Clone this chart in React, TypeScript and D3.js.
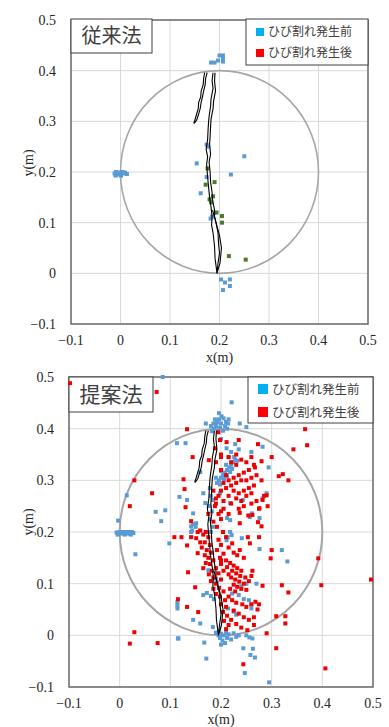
import React from 'react';
import * as d3 from 'd3';

type P = [number, number];

const xTicks = [-0.1, 0, 0.1, 0.2, 0.3, 0.4, 0.5];
const yTicks = [-0.1, 0, 0.1, 0.2, 0.3, 0.4, 0.5];
const legendLabels = ['ひび割れ発生前', 'ひび割れ発生後'];
const panelTitles = ['従来法', '提案法'];
const axisTitles = ['x(m)', 'y(m)'];
const circleCenter: P = [0.2, 0.2];
const circleRadius = 0.2;

const crackMainA: P[] = [[0.187,0.396],[0.185,0.38],[0.187,0.365],[0.183,0.345],[0.182,0.33],[0.179,0.31],[0.178,0.3],[0.177,0.285],[0.176,0.264],[0.173,0.245],[0.176,0.23],[0.174,0.215],[0.176,0.19],[0.178,0.17],[0.18,0.15],[0.183,0.13],[0.185,0.112],[0.184,0.095],[0.187,0.08],[0.19,0.053],[0.191,0.03],[0.193,0.015],[0.195,0.0]];
const crackMainB: P[] = [[0.191,0.396],[0.19,0.38],[0.192,0.36],[0.188,0.34],[0.187,0.325],[0.183,0.305],[0.182,0.29],[0.181,0.27],[0.18,0.255],[0.182,0.235],[0.179,0.22],[0.181,0.2],[0.182,0.18],[0.185,0.16],[0.186,0.145],[0.19,0.125],[0.19,0.112],[0.194,0.095],[0.197,0.08],[0.198,0.06],[0.2,0.04],[0.197,0.02],[0.195,0.0]];
const crackLoop: P[] = [[0.186,0.125],[0.193,0.1],[0.2,0.075],[0.204,0.05],[0.201,0.02],[0.196,0.004]];
const crackBranchA: P[] = [[0.17,0.396],[0.168,0.385],[0.167,0.372],[0.163,0.36],[0.162,0.348],[0.158,0.338],[0.157,0.325],[0.154,0.315],[0.151,0.305],[0.148,0.296]];
const crackBranchB: P[] = [[0.175,0.396],[0.172,0.385],[0.171,0.372],[0.168,0.36],[0.166,0.35],[0.163,0.338],[0.161,0.325],[0.158,0.315],[0.154,0.303],[0.149,0.296]];

const topBefore: P[] = [
  [-0.012,0.197],[-0.009,0.2],[-0.006,0.195],[-0.003,0.199],[0,0.196],[0.003,0.2],[0.006,0.197],[0.009,0.199],[0.013,0.196],[-0.01,0.193],[0.001,0.193],
  [0.183,0.416],[0.19,0.416],[0.197,0.42],[0.2,0.43],[0.207,0.43],[0.207,0.424],[0.207,0.418],
  [0.174,0.254],[0.177,0.25],[0.25,0.231],[0.154,0.217],[0.223,0.195],[0.174,0.19],[0.162,0.158],[0.182,0.108],[0.185,0.112],
  [0.203,-0.012],[0.211,-0.018],[0.221,-0.012],[0.221,-0.025],[0.207,-0.033],
];
const topAfter: P[] = [
  [0.176,0.207],[0.172,0.175],[0.19,0.18],[0.18,0.146],[0.187,0.152],[0.183,0.14],[0.194,0.12],[0.205,0.113],[0.205,0.1],[0.219,0.034],[0.253,0.027],
];

const bottomBefore: P[] = [
  [-0.006,0.199],[-0.003,0.197],[0,0.2],[0.003,0.197],[0.006,0.2],[0.009,0.197],[0.012,0.2],[0.015,0.197],[0.018,0.2],[0.021,0.197],[0.024,0.2],[0.027,0.198],[-0.004,0.195],[0.01,0.195],[0.022,0.195],
  [-0.003,0.222],[0.014,0.271],[0.031,0.157],[0.071,0.239],[0.09,0.242],[0.082,0.221],[0.098,0.178],[0.085,0.5],
  [0.113,0.372],[0.13,0.372],[0.118,0.268],[0.133,0.262],[0.114,0.064],[0.114,0.058],[0.114,0.052],[0.115,-0.006],[0.145,0.03],[0.141,0.211],[0.141,0.2],[0.151,0.217],[0.145,0.236],[0.159,0.316],
  [0.182,0.395],[0.186,0.4],[0.19,0.405],[0.185,0.41],[0.192,0.412],[0.196,0.418],[0.2,0.41],[0.198,0.402],[0.204,0.396],[0.208,0.405],[0.21,0.413],[0.205,0.42],[0.212,0.4],[0.214,0.41],[0.188,0.418],[0.194,0.395],[0.201,0.424],[0.215,0.418],[0.18,0.405],[0.17,0.41],[0.221,0.451],[0.237,0.41],[0.25,0.403],[0.196,0.43],
  [0.211,0.362],[0.22,0.355],[0.228,0.37],[0.235,0.36],[0.26,0.355],[0.282,0.365],[0.294,0.325],[0.215,0.345],[0.2,0.38],
  [0.192,0.295],[0.196,0.3],[0.2,0.305],[0.204,0.31],[0.208,0.315],[0.212,0.32],[0.216,0.325],[0.22,0.33],[0.224,0.335],[0.228,0.34],[0.198,0.292],[0.206,0.302],[0.212,0.308],[0.218,0.316],[0.222,0.322],[0.19,0.305],[0.2,0.318],[0.21,0.33],[0.226,0.345],[0.232,0.338],
  [0.165,0.275],[0.169,0.256],[0.184,0.262],[0.198,0.275],[0.218,0.256],[0.243,0.262],[0.257,0.229],[0.282,0.265],[0.29,0.275],[0.218,0.223],[0.211,0.184],[0.212,0.227],[0.218,0.2],[0.221,0.194],[0.213,0.19],[0.241,0.188],[0.261,0.236],[0.276,0.227],[0.276,0.167],[0.32,0.165],[0.331,0.143],
  [0.178,0.285],[0.18,0.27],[0.176,0.25],[0.182,0.24],[0.178,0.225],[0.184,0.21],[0.18,0.2],[0.143,0.203],[0.145,0.215],[0.15,0.21],
  [0.175,0.126],[0.19,0.11],[0.192,0.102],[0.165,0.078],[0.172,0.082],[0.18,0.076],[0.186,0.07],[0.222,0.081],[0.235,0.078],[0.245,0.07],[0.255,0.068],[0.26,0.06],[0.214,0.052],[0.225,0.046],[0.23,0.04],[0.159,0.023],[0.184,0.016],[0.27,0.1],[0.26,0.052],[0.24,0.095],[0.25,0.1],
  [0.19,0.005],[0.195,0.0],[0.198,-0.005],[0.2,0.003],[0.203,-0.01],[0.205,0.0],[0.208,-0.015],[0.21,0.005],[0.212,-0.005],[0.215,0.002],[0.2,-0.018],[0.196,0.008],[0.22,-0.008],[0.225,0.004],[0.23,-0.003],[0.235,0.0],[0.25,0.0],[0.262,-0.006],[0.256,-0.004],
  [0.167,-0.014],[0.171,-0.045],[0.116,-0.006],[0.247,-0.073],[0.295,-0.091],[0.244,-0.025],[0.263,-0.026],[0.258,-0.038],[0.267,-0.043],
];

const bottomAfter: P[] = [
  [-0.098,0.488],[0.073,0.471],[0.133,0.399],[0.366,0.399],[0.37,0.368],[0.343,0.36],[0.273,0.37],[0.235,0.378],[0.3,0.345],[0.28,0.337],[0.322,0.312],[0.314,0.308],[0.333,0.3],[0.144,0.345],[0.176,0.339],[0.211,0.374],[0.195,0.393],[0.198,0.378],[0.188,0.362],
  [0.029,0.3],[0.064,0.275],[0.02,0.25],[0.128,0.283],[0.126,0.302],[0.13,0.248],
  [0.2,0.32],[0.21,0.31],[0.22,0.335],[0.23,0.33],[0.24,0.34],[0.25,0.335],[0.255,0.32],[0.245,0.315],[0.235,0.31],[0.225,0.305],[0.215,0.3],[0.205,0.295],[0.22,0.29],[0.23,0.295],[0.24,0.3],[0.25,0.3],[0.26,0.305],[0.265,0.29],[0.255,0.285],[0.245,0.28],[0.235,0.275],[0.225,0.28],[0.21,0.285],[0.2,0.28],[0.215,0.27],[0.23,0.265],[0.24,0.26],[0.25,0.27],[0.26,0.275],[0.27,0.26],[0.26,0.255],[0.245,0.25],[0.235,0.245],[0.22,0.255],[0.205,0.26],[0.195,0.27],[0.27,0.31],[0.28,0.3],[0.275,0.245],[0.285,0.27],[0.2,0.24],[0.215,0.235],[0.19,0.255],[0.2,0.345],[0.215,0.345],[0.23,0.35],[0.26,0.345],[0.265,0.33],
  [0.267,0.325],[0.29,0.271],[0.292,0.25],[0.282,0.262],[0.276,0.246],[0.262,0.233],[0.273,0.219],[0.28,0.211],[0.275,0.19],[0.3,0.165],[0.298,0.149],[0.392,0.149],[0.398,0.097],[0.496,0.108],[0.32,0.097],[0.333,0.083],[0.282,0.096],[0.309,0.037],[0.327,0.037],[0.327,0.023],[0.29,0.004],[0.309,-0.025],[0.406,-0.064],[0.244,-0.056],
  [0.237,0.237],[0.254,0.232],[0.237,0.217],[0.253,0.19],[0.257,0.178],[0.237,0.165],
  [0.108,0.19],[0.122,0.19],[0.141,0.221],[0.141,0.19],[0.151,0.188],[0.154,0.2],[0.154,0.159],[0.135,0.122],[0.149,0.093],[0.115,0.07],[0.133,0.055],[0.155,0.045],[0.029,0.006],[0.02,-0.016],[0.075,-0.015],[0.133,0.174],[0.159,0.18],[0.159,0.203],[0.204,0.2],
  [0.185,0.28],[0.19,0.265],[0.188,0.25],[0.195,0.235],[0.185,0.22],[0.192,0.21],[0.2,0.225],[0.205,0.245],[0.175,0.235],[0.19,0.335],[0.2,0.35],
  [0.17,0.2],[0.175,0.19],[0.168,0.18],[0.178,0.175],[0.172,0.165],[0.18,0.16],[0.175,0.15],[0.185,0.145],[0.178,0.138],[0.19,0.13],[0.182,0.125],[0.195,0.12],[0.185,0.112],[0.2,0.108],[0.19,0.1],[0.196,0.092],[0.205,0.085],[0.198,0.075],[0.208,0.068],[0.2,0.06],[0.21,0.055],[0.204,0.045],[0.212,0.038],[0.206,0.028],[0.215,0.02],[0.21,0.012],
  [0.165,0.195],[0.162,0.17],[0.168,0.155],[0.17,0.14],[0.176,0.118],[0.18,0.105],[0.185,0.09],[0.19,0.08],[0.165,0.13],
  [0.195,0.185],[0.2,0.175],[0.192,0.165],[0.205,0.158],[0.198,0.15],[0.21,0.145],[0.2,0.138],[0.212,0.132],[0.205,0.125],[0.215,0.118],
  [0.218,0.14],[0.225,0.135],[0.232,0.13],[0.24,0.125],[0.222,0.125],[0.23,0.12],[0.238,0.115],[0.248,0.112],[0.22,0.112],[0.228,0.108],[0.236,0.104],[0.245,0.1],[0.255,0.105],[0.225,0.098],[0.232,0.094],[0.24,0.09],[0.25,0.088],[0.218,0.09],[0.228,0.085],[0.26,0.115],[0.262,0.125],[0.215,0.075],[0.222,0.068],[0.23,0.063],[0.242,0.06],[0.25,0.055],[0.26,0.06],[0.268,0.065],[0.275,0.06],[0.272,0.05],[0.225,0.048],[0.235,0.042],[0.245,0.035],[0.255,0.03],[0.265,0.02],[0.265,0.035],[0.22,0.03],[0.23,0.022],[0.24,0.015],[0.252,0.01],
  [0.232,0.155],[0.245,0.15],[0.225,0.16],[0.215,0.17],[0.222,0.178],[0.21,0.19],[0.2,0.145],
];

const COLORS = {
  grid: '#d9d9d9', frame: '#6b6b6b', circle: '#a6a6a6', text: '#262626',
  blue: '#5b9bd5', red: '#f00000', green: '#4a7a2b', legBlue: '#00b0f0', legRed: '#ff0000',
};

const fmt = (v: number) => (Math.abs(v) < 1e-9 ? '0' : d3.format('.1f')(v));

interface PanelProps {
  box: { l: number; r: number; t: number; b: number };
  title: string;
  titleBox: { x: number; y: number; w: number; h: number; fs: number };
  legend: { x: number; y: number; w: number; h: number; mk: number; fs: number; rows: number[] };
  series: { data: P[]; color: string }[];
  yLabelY: number;
  xLabelY: number;
  circleW: number;
}

function Panel(p: PanelProps) {
  const { box } = p;
  const x = d3.scaleLinear().domain([-0.1, 0.5]).range([box.l, box.r]);
  const y = d3.scaleLinear().domain([-0.1, 0.5]).range([box.b, box.t]);
  const line = d3.line<P>().x((d) => x(d[0])).y((d) => y(d[1])).curve(d3.curveLinear);
  const cracks = [crackMainA, crackMainB, crackLoop, crackBranchA, crackBranchB];
  const mk = 4;
  return (
    <g>
      {xTicks.map((t) => (
        <line key={'gx' + t} x1={x(t)} x2={x(t)} y1={box.t} y2={box.b} stroke={COLORS.grid} strokeWidth={1} />
      ))}
      {yTicks.map((t) => (
        <line key={'gy' + t} x1={box.l} x2={box.r} y1={y(t)} y2={y(t)} stroke={COLORS.grid} strokeWidth={1} />
      ))}
      <rect x={box.l} y={box.t} width={box.r - box.l} height={box.b - box.t} fill="none" stroke={COLORS.frame} strokeWidth={1.5} />
      <ellipse cx={x(circleCenter[0])} cy={y(circleCenter[1])} rx={x(circleCenter[0] + circleRadius) - x(circleCenter[0])} ry={y(circleCenter[1] - circleRadius) - y(circleCenter[1])} fill="none" stroke={COLORS.circle} strokeWidth={p.circleW} />
      {yTicks.map((t) => (
        <text key={'ty' + t} x={box.l - 15} y={y(t)} dy="0.35em" textAnchor="end" fontFamily="'Liberation Serif', serif" fontSize={14} fill={COLORS.text}>{fmt(t)}</text>
      ))}
      {xTicks.map((t) => (
        <text key={'tx' + t} x={x(t)} y={box.b + 21} textAnchor="middle" fontFamily="'Liberation Serif', serif" fontSize={14} fill={COLORS.text}>{fmt(t)}</text>
      ))}
      <text x={(box.l + box.r) / 2} y={p.xLabelY} textAnchor="middle" fontFamily="'Liberation Serif', serif" fontSize={14} fill={COLORS.text}>{axisTitles[0]}</text>
      <text transform={`translate(33,${p.yLabelY}) rotate(-90)`} textAnchor="middle" fontFamily="'Liberation Serif', serif" fontSize={14} fill={COLORS.text}>{axisTitles[1]}</text>
      <rect x={p.titleBox.x} y={p.titleBox.y} width={p.titleBox.w} height={p.titleBox.h} fill="#fff" stroke="#404040" strokeWidth={1} />
      <text x={p.titleBox.x + p.titleBox.w / 2} y={p.titleBox.y + p.titleBox.h / 2} dy="0.36em" textAnchor="middle" fontFamily="'Noto Sans CJK JP', sans-serif" fontSize={p.titleBox.fs} fill="#404040">{p.title}</text>
      <rect x={p.legend.x} y={p.legend.y} width={p.legend.w} height={p.legend.h} fill="#fff" stroke="#404040" strokeWidth={1} />
      {legendLabels.map((lab, i) => (
        <g key={lab}>
          <rect x={p.legend.x + 10} y={p.legend.rows[i] - p.legend.mk / 2} width={p.legend.mk} height={p.legend.mk} fill={i === 0 ? COLORS.legBlue : COLORS.legRed} />
          <text x={p.legend.x + 14 + p.legend.mk} y={p.legend.rows[i]} dy="0.36em" fontFamily="'Noto Sans CJK JP', sans-serif" fontSize={p.legend.fs} fill="#404040">{lab}</text>
        </g>
      ))}
      {p.series.map((s, si) => (
        <g key={si}>
          {s.data.map((d, i) => (
            <rect key={i} x={x(d[0]) - mk / 2} y={y(d[1]) - mk / 2} width={mk} height={mk} fill={s.color} />
          ))}
        </g>
      ))}
      {cracks.map((c, i) => (
        <path key={i} d={line(c) || ''} fill="none" stroke="#000" strokeWidth={1.1} strokeLinejoin="round" />
      ))}
    </g>
  );
}

export default function App() {
  return (
    <svg width={389} height={727} style={{ position: 'absolute', left: 0, top: 0, background: '#fff' }}>
      <rect x={0} y={0} width={389} height={727} fill="#fff" />
      <Panel
        box={{ l: 71, r: 368, t: 20, b: 324 }}
        title={panelTitles[0]}
        titleBox={{ x: 71, y: 19, w: 81, h: 34, fs: 20 }}
        legend={{ x: 246, y: 19, w: 122, h: 46, mk: 8, fs: 12, rows: [32, 53] }}
        series={[{ data: topBefore, color: COLORS.blue }, { data: topAfter, color: COLORS.green }]}
        yLabelY={163}
        xLabelY={362}
        circleW={1.6}
      />
      <Panel
        box={{ l: 69, r: 373, t: 377, b: 687 }}
        title={panelTitles[1]}
        titleBox={{ x: 69, y: 377, w: 84, h: 35, fs: 21 }}
        legend={{ x: 248, y: 377, w: 125, h: 46, mk: 10, fs: 12.5, rows: [389, 412] }}
        series={[{ data: bottomBefore, color: COLORS.blue }, { data: bottomAfter, color: COLORS.red }]}
        yLabelY={522}
        xLabelY={724}
        circleW={2}
      />
    </svg>
  );
}
